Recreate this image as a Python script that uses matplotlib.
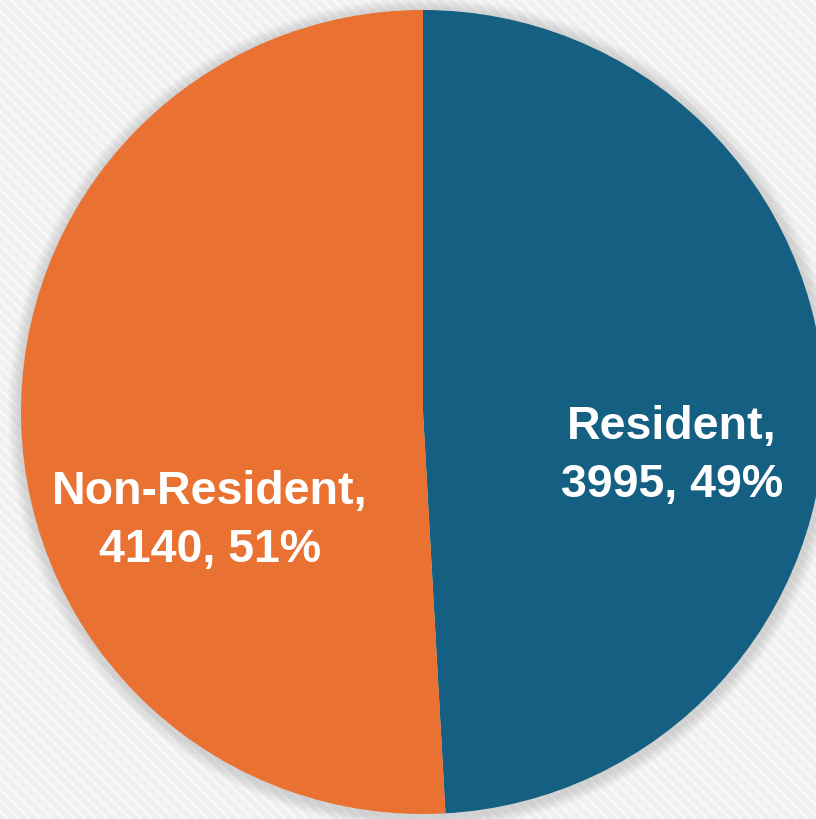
import matplotlib.pyplot as plt
from matplotlib.patches import Rectangle, Circle

labels = ["Resident", "Non-Resident"]
counts = [3995, 4140]
colors = ["#156082", "#E97132"]

plt.rcParams["hatch.color"] = "#ffffff"
plt.rcParams["hatch.linewidth"] = 1.4

fig = plt.figure(figsize=(8.16, 8.19), dpi=100)
ax = fig.add_axes([0, 0, 1, 1])

# striped background
bg = Rectangle((0, 0), 816, 819, facecolor="#f0f0f0", edgecolor="#fbfbfb",
               hatch="\\\\\\", linewidth=0, zorder=0)
ax.add_patch(bg)

cx, cy, r = 423, 407, 402

# soft shadow round the pie
for i in range(12):
    ax.add_patch(Circle((cx + 1, cy - 2), r + 14 - i, facecolor="#9a9a9a",
                        edgecolor="none", alpha=0.03, zorder=1))

total = sum(counts)
wedges, _ = ax.pie(counts, colors=colors, startangle=90, counterclock=False,
                   center=(cx, cy), radius=r, frame=True,
                   wedgeprops=dict(linewidth=0))
for w in wedges:
    w.set_zorder(2)
ax.set_xlim(0, 816)
ax.set_ylim(0, 819)
ax.set_aspect("auto")
ax.axis("off")

label_pos = [(672, 363), (210, 298)]
for lab, n, (x, y) in zip(labels, counts, label_pos):
    pct = round(100 * n / total)
    ax.text(x, y, f"{lab},\n{n}, {pct}%", ha="center", va="center",
            color="white", fontsize=33.5, fontweight="bold",
            family="Liberation Sans", linespacing=1.42, zorder=3)

fig.savefig("out.png", dpi=100)
